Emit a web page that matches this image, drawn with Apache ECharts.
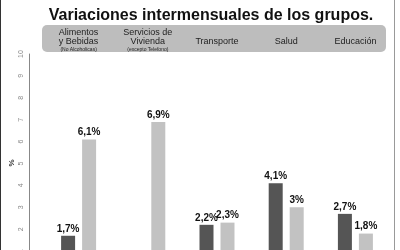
<!DOCTYPE html>
<html>
<head>
<meta charset="utf-8">
<script src="https://cdn.jsdelivr.net/npm/echarts@6/dist/echarts.min.js"></script>
<style>
  html, body { margin: 0; padding: 0; background: #fff; overflow: hidden; }
  /* el eje baja por debajo del borde: la ventana recorta la parte inferior */
  #chart { width: 400px; height: 280px; }
</style>
</head>
<body>
<div id="chart"></div>
<script>
  const categories = ['Alimentos\ny Bebidas', 'Servicios de\nVivienda', 'Transporte', 'Salud', 'Educación']
  const subLabels = ['(No Alcoholicas)', '(excepto Telefono)', '', '', '']
  const serieA = [1.7, null, 2.2, 4.1, 2.7] // barra oscura
  const serieB = [6.1, 6.9, 2.3, 3, 1.8] // barra clara
  const unidad = '%'

  const fmt = p => String(p.value).replace('.', ',') + '%'

  const chart = echarts.init(document.getElementById('chart'))
  const option = {
    animation: false,
    title: {
      text: 'Variaciones intermensuales de los grupos.',
      left: 206,
      textAlign: 'center',
      top: 3,
      textStyle: { fontFamily: 'Liberation Sans', fontSize: 16, fontWeight: 'bold', color: '#111' },
    },
    graphic: [
      // recuadro gris de la cabecera
      { type: 'rect', left: 42, top: 25, shape: { width: 344, height: 27, r: 5 }, style: { fill: '#bdbdbd' }, z: -1 },
      { type: 'line', shape: { x1: 0.5, y1: 0, x2: 0.5, y2: 280 }, style: { stroke: '#333', lineWidth: 1 } },
      { type: 'line', shape: { x1: 394.5, y1: 0, x2: 394.5, y2: 280 }, style: { stroke: '#999', lineWidth: 1 } },
      // nombre del eje
      {
        type: 'text', x: 12, y: 163, rotation: Math.PI / 2,
        style: { text: unidad, fontSize: 8, fontWeight: 'bold', fill: '#333', align: 'center', verticalAlign: 'middle' },
      },
    ],
    grid: { left: 44, right: 10, top: 54, bottom: 7, outerBoundsMode: 'none' },
    xAxis: {
      type: 'category',
      position: 'top',
      data: categories,
      axisLine: { show: false },
      axisTick: { show: false },
      axisLabel: {
        interval: 0,
        margin: 0,
        fontFamily: 'Liberation Sans',
        fontSize: 9,
        lineHeight: 9,
        color: '#222',
        formatter: (v, i) => v + '\n{s|' + (subLabels[i] || ' ') + '}',
        rich: { s: { fontSize: 5, lineHeight: 8, color: '#222', fontFamily: 'Liberation Sans' } },
      },
    },
    yAxis: {
      type: 'value',
      min: 0,
      max: 10,
      interval: 1,
      offset: 15,
      axisLine: { show: true, lineStyle: { color: '#888', width: 1 } },
      axisTick: { show: false },
      splitLine: { show: false },
      axisLabel: { rotate: 90, margin: 4, fontSize: 7, color: '#888', fontFamily: 'Liberation Sans' },
    },
    series: [
      {
        type: 'bar',
        data: serieA,
        barWidth: 14,
        barGap: '50%',
        itemStyle: { color: '#555555' },
        label: { show: true, position: 'top', distance: 2, formatter: fmt, fontSize: 10, fontWeight: 'bold', color: '#111', fontFamily: 'Liberation Sans' },
      },
      {
        type: 'bar',
        data: serieB,
        barWidth: 14,
        barGap: '50%',
        itemStyle: { color: '#c2c2c2' },
        label: { show: true, position: 'top', distance: 2, formatter: fmt, fontSize: 10, fontWeight: 'bold', color: '#111', fontFamily: 'Liberation Sans' },
      },
    ],
  }
  chart.setOption(option)
</script>
</body>
</html>
